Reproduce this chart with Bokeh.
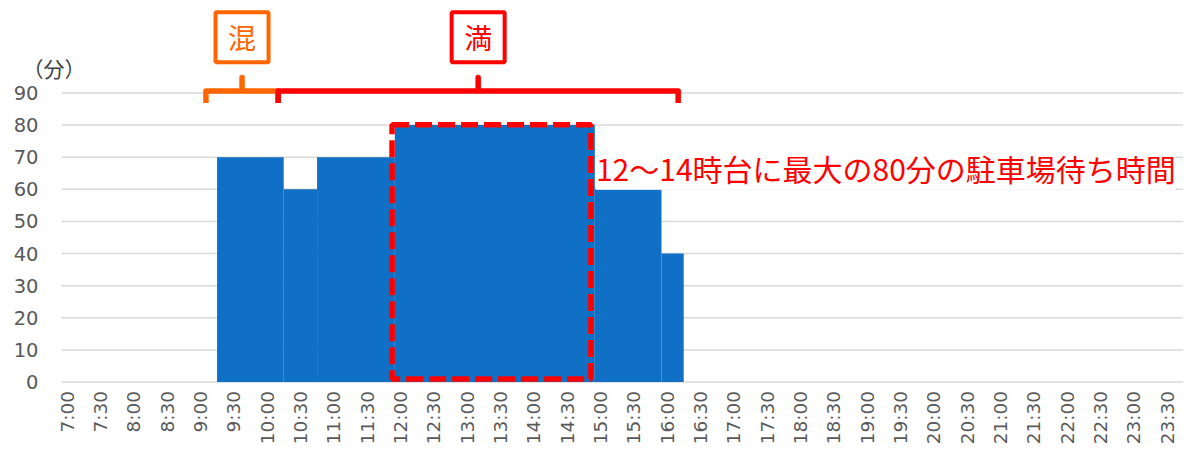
import math
from bokeh.plotting import figure
from bokeh.models import ColumnDataSource, FixedTicker, Range1d, BoxAnnotation, Label
from bokeh.core.properties import value
from bokeh.embed import file_html
from bokeh.resources import INLINE

FONT = "Noto Sans CJK JP"
NUM_FONT = "DejaVu Sans"

# 10-minute slots from 7:00 to 23:50
slot_times = [f"{h}:{m:02d}" for h in range(7, 24) for m in range(0, 60, 10)]

# parking wait time (minutes) per 10-minute slot
wait_minutes = [
    0, 0, 0, 0, 0, 0,          # 7時
    0, 0, 0, 0, 0, 0,          # 8時
    0, 0, 70, 70, 70, 70,      # 9時
    70, 70, 60, 60, 60, 70,    # 10時
    70, 70, 70, 70, 70, 70,    # 11時
    80, 80, 80, 80, 80, 80,    # 12時
    80, 80, 80, 80, 80, 80,    # 13時
    80, 80, 80, 80, 80, 80,    # 14時
    60, 60, 60, 60, 60, 60,    # 15時
    40, 40, 0, 0, 0, 0,        # 16時
    0, 0, 0, 0, 0, 0,          # 17時
    0, 0, 0, 0, 0, 0,          # 18時
    0, 0, 0, 0, 0, 0,          # 19時
    0, 0, 0, 0, 0, 0,          # 20時
    0, 0, 0, 0, 0, 0,          # 21時
    0, 0, 0, 0, 0, 0,          # 22時
    0, 0, 0, 0, 0, 0,          # 23時
]

tick_labels = ["7:00", "7:30", "8:00", "8:30", "9:00", "9:30", "10:00", "10:30",
               "11:00", "11:30", "12:00", "12:30", "13:00", "13:30", "14:00", "14:30",
               "15:00", "15:30", "16:00", "16:30", "17:00", "17:30", "18:00", "18:30",
               "19:00", "19:30", "20:00", "20:30", "21:00", "21:30", "22:00", "22:30",
               "23:00", "23:30"]
y_ticks = [0, 10, 20, 30, 40, 50, 60, 70, 80, 90]

unit_label = "（分）"
note_text = "12～14時台に最大の80分の駐車場待ち時間"
mixed_label, mixed_span = "混", ("9:10", "10:15")
full_label, full_span = "満", ("10:15", "16:15")
peak_span = ("12:00", "15:00")

BLUE = "#1070c5"
ORANGE = "#ff6600"
RED = "#ff0000"
GRAY = "#595959"
GRID = "#d9d9d9"

X_START, X_END = -5.99, 100.48
AXIS_X = -0.5          # left edge of the first slot


def edge(t):
    h, m = t.split(":")
    return (int(h) * 60 + int(m) - 420) / 10 - 0.5


# merge consecutive equal 10-minute columns (gap width 0) so no seams appear
runs = dict(left=[], right=[], top=[])
i = 0
while i < len(wait_minutes):
    j = i
    while j + 1 < len(wait_minutes) and wait_minutes[j + 1] == wait_minutes[i]:
        j += 1
    if wait_minutes[i] > 0:
        runs["left"].append(i - 0.5)
        runs["right"].append(j + 0.5)
        runs["top"].append(wait_minutes[i])
    i = j + 1

p = figure(width=1183, height=447, output_backend="svg", toolbar_location=None,
           x_range=Range1d(X_START, X_END), y_range=Range1d(-20.4, 118.81),
           min_border_left=0, min_border_right=0, min_border_top=0, min_border_bottom=0)
p.outline_line_color = None
p.background_fill_color = "white"
p.xgrid.visible = False
p.ygrid.visible = False

# horizontal gridlines starting at the plot-area edge
p.segment(x0=AXIS_X, x1=X_END, y0=y_ticks, y1=y_ticks, line_color=GRID, line_width=1.5)

p.quad(left="left", right="right", top="top", bottom=0, source=ColumnDataSource(runs),
       fill_color=BLUE, line_color=None)

# axes (drawn at fixed locations so they take no border space)
p.xaxis.fixed_location = 0
p.yaxis.fixed_location = AXIS_X
p.xaxis.ticker = FixedTicker(ticks=[slot_times.index(l) for l in tick_labels])
p.xaxis.major_label_overrides = {slot_times.index(l): l for l in tick_labels}
p.xaxis.major_label_orientation = math.pi / 2
p.yaxis.ticker = FixedTicker(ticks=y_ticks)
for ax in (p.xaxis, p.yaxis):
    ax.major_label_text_font = NUM_FONT
    ax.major_label_text_color = GRAY
    ax.major_tick_line_color = None
    ax.minor_tick_line_color = None
    ax.major_tick_out = 0
    ax.major_tick_in = 0
    ax.axis_line_color = None
p.xaxis.major_label_text_font_size = "18.5px"
p.yaxis.major_label_text_font_size = "19.5px"
p.xaxis.major_label_standoff = 9
p.yaxis.major_label_standoff = 23

# peak highlight box
p.add_layout(BoxAnnotation(left=edge(peak_span[0]) - 0.25, right=edge(peak_span[1]) - 0.35,
                           bottom=0.9, top=max(wait_minutes) + 0.1,
                           fill_alpha=0, line_color=RED, line_alpha=1.0,
                           line_width=5.5, line_dash="17 6"))

# brackets with labels
for lbl, span, col in ((mixed_label, mixed_span, ORANGE), (full_label, full_span, RED)):
    L, R = edge(span[0]), edge(span[1])
    M = (L + R) / 2
    p.line([L, L, M, M, M, R, R], [86.9, 90.6, 90.6, 94.8, 90.6, 90.6, 86.9],
           line_color=col, line_width=5.5, line_join="round", line_cap="butt")
    p.rect(x=[M], y=[107.4], width=53, height=50, width_units="screen", height_units="screen",
           fill_color="white", line_color=col, line_width=4)
    p.text(x=[M], y=[107.4], text=[lbl], text_align="center", text_baseline="middle",
           text_font=value(FONT), text_font_size="28px", text_color=col)

p.add_layout(Label(x=edge(peak_span[1]) + 0.1, y=66.7, text=note_text, text_font=FONT,
                   text_font_size="30px", text_color=RED, text_baseline="middle",
                   background_fill_color="white"))

p.add_layout(Label(x=-1.175, y=97.9, text=unit_label, text_font=FONT, text_font_size="21px",
                   text_color="#404040", text_align="center", text_baseline="middle"))

open("out.html", "w").write(file_html(p, INLINE))
